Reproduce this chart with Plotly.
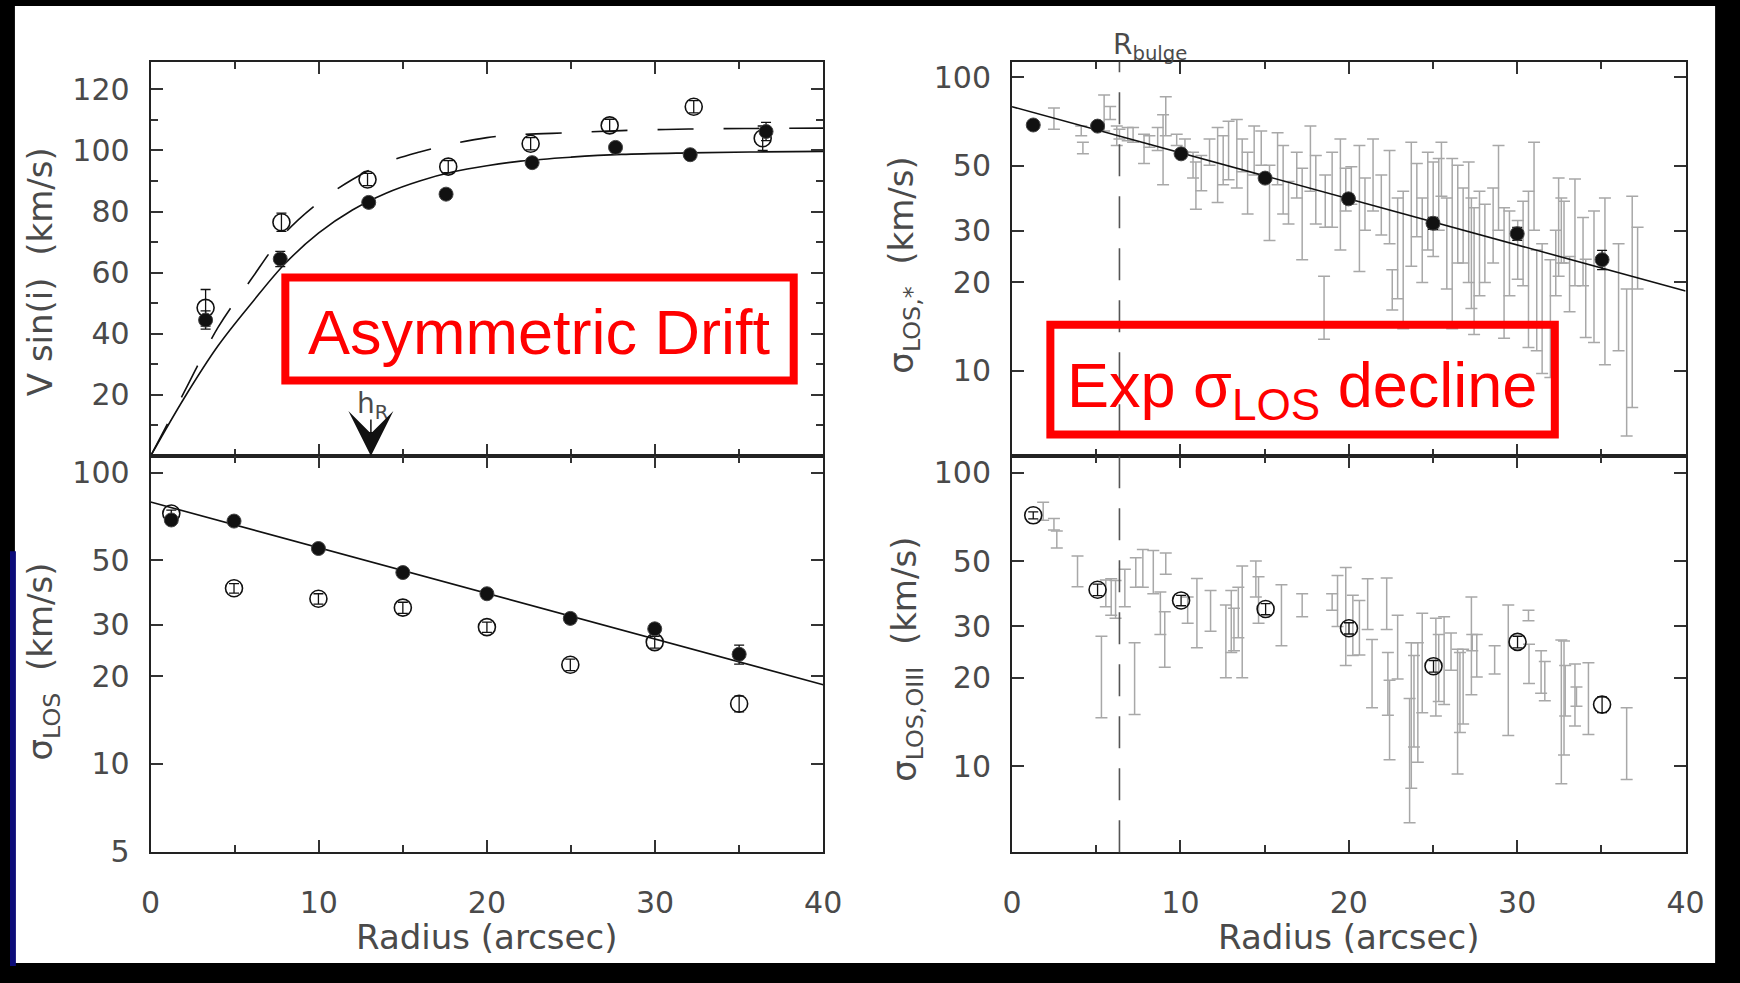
import numpy as np
import plotly.graph_objects as go

W, H = 1740, 983

# ---------------- data: top-left  V sin(i) ----------------
v_r_open = [3.27, 7.78, 12.9, 17.7, 22.6, 27.3, 32.3, 36.4]
v_open = [48.5, 76.5, 90.5, 94.7, 102.2, 108.2, 114.3, 104.0]
v_open_err = [6.0, 3.0, 2.0, 2.0, 2.0, 2.0, 2.0, 4.0]
v_r_fill = [3.27, 7.71, 12.97, 17.57, 22.69, 27.65, 32.09, 36.6]
v_fill = [44.5, 64.5, 83.0, 85.7, 96.0, 101.0, 98.6, 106.2]
v_fill_err = [3.0, 2.5, 1.5, 1.5, 1.5, 1.5, 1.5, 3.0]

curve_r = [0, 2, 4, 6, 8, 10, 12, 14, 16, 18, 20, 22, 25, 28, 32, 36, 40]
curve_solid = [0, 19, 36, 50, 63, 73, 80.5, 86, 90, 93, 95, 96.5, 97.8, 98.7, 99.2, 99.5, 99.7]
curve_dashed = [0, 21, 42, 58, 73, 83, 90.5, 96, 99.5, 102.2, 104.2, 105.2, 105.8, 106.5, 107.0, 107.2, 107.3]

# ---------------- data: bottom-left  sigma_LOS ----------------
los_r = [1.23, 4.96, 9.98, 15.0, 20.0, 24.96, 29.98, 35.0]
los_fill = [68.8, 68.2, 54.9, 45.4, 38.4, 31.6, 29.1, 23.8]
los_fill_err = [2.0, 1.5, 1.5, 1.5, 1.2, 1.2, 1.2, 1.8]
los_open = [72.4, 40.1, 36.9, 34.4, 29.5, 21.9, 26.2, 16.1]
los_open_err = [2.0, 1.5, 1.5, 1.5, 1.2, 1.0, 1.2, 1.0]

fit_r = [0, 40]
fit_sig = [79.3, 18.7]

# ---------------- data: top-right  sigma_LOS,* ----------------
star_r = [1.26, 5.08, 10.04, 15.03, 19.98, 25.0, 30.0, 35.04]
star_sig = [68.7, 68.1, 54.8, 45.3, 38.5, 31.8, 29.3, 23.9]
star_err = [2.0, 2.0, 1.8, 1.5, 1.5, 1.5, 1.5, 1.8]

star_bar_r = [2.49, 4.11, 4.21, 5.47, 5.83, 6.22, 6.38, 6.87, 7.19, 7.84, 8.16, 8.65, 8.97, 9.13,
              9.78, 10.27, 10.75, 10.92, 11.24, 11.73, 12.21, 12.54, 12.86, 13.35, 13.67, 13.99,
              14.38, 14.80, 15.29, 15.77, 16.10, 16.42, 16.91, 17.23, 17.72, 18.04, 18.53, 18.6,
              19.01, 19.50, 19.82, 20.15, 20.63, 20.96, 21.44, 21.93, 22.42, 22.58, 22.90, 23.23,
              23.71, 24.04, 24.36, 24.69, 25.01, 25.34, 25.5, 25.82, 26.14, 26.47, 26.79, 27.12,
              27.28, 27.44, 27.76, 28.08, 28.57, 28.89, 29.22, 29.54, 30.03, 30.35, 30.67, 31.00,
              31.16, 31.48, 31.97, 32.29, 32.46, 32.62, 32.78, 33.11, 33.43, 33.91, 34.07, 34.56,
              35.21, 36.02, 36.50, 36.83, 37.15]
star_bar_hi = [78.5, 68.1, 60.0, 86.9, 79.4, 68.1, 66.4, 67.3, 67.3, 63.9, 63.1, 67.3, 74.5, 85.8,
               63.9, 61.5, 55.5, 51.4, 54.1, 61.5, 67.3, 63.1, 70.8, 71.7, 61.5, 55.5,
               68.1, 65.6, 50.1, 64.7, 58.5, 44.1, 55.5, 48.9, 68.1, 54.1, 21.0, 46.4,
               55.5, 61.5, 48.9, 49.5, 58.5, 45.3, 61.5, 46.4, 56.3, 22.1, 38.8, 40.9,
               60.0, 50.8, 38.8, 55.5, 51.4, 52.8, 60.0, 38.8, 52.8, 50.1, 41.9, 51.4,
               38.8, 35.9, 40.9, 36.9, 41.9, 58.5, 35.9, 35.0, 32.5, 37.8, 40.9, 60.0,
               25.8, 27.1, 23.9, 30.1, 45.3, 38.8, 37.8, 24.5, 45.0, 33.3, 24.0, 35.0,
               38.8, 27.1, 19.0, 39.3, 30.8]
star_bar_lo = [66.4, 63.1, 54.8, 65.6, 71.7, 58.5, 61.5, 60.7, 60.0, 50.8, 57.7, 56.3, 43.0, 63.1,
               58.5, 55.5, 45.3, 35.5, 41.0, 50.1, 37.4, 43.0, 44.7, 41.9, 47.6, 34.2,
               46.4, 50.1, 27.8, 43.0, 34.2, 31.6, 38.8, 23.9, 40.9, 31.6, 12.8, 30.8,
               30.8, 25.8, 35.0, 36.9, 21.8, 30.1, 35.0, 29.0, 27.1, 16.1, 17.6, 13.9,
               22.7, 28.6, 20.0, 25.8, 24.5, 30.1, 39.3, 19.0, 13.9, 23.3, 23.3, 20.0,
               16.3, 13.3, 18.0, 20.0, 23.3, 30.1, 12.9, 18.0, 20.5, 19.5, 12.0, 30.1,
               11.7, 9.8, 9.5, 18.0, 21.0, 23.3, 23.3, 15.9, 19.5, 19.5, 13.0, 12.5,
               10.5, 11.7, 6.0, 7.5, 19.0]

# ---------------- data: bottom-right  sigma_LOS,OIII ----------------
gas_r = [1.26, 5.08, 10.04, 15.06, 20.01, 25.03, 30.02, 35.04]
gas_sig = [71.6, 39.9, 36.7, 34.3, 29.5, 21.9, 26.5, 16.2]
gas_err = [2.0, 1.8, 1.5, 1.5, 1.3, 1.0, 1.2, 1.0]

gas_bar_r = [1.85, 2.49, 2.66, 3.89, 5.31, 5.57, 5.89, 6.15, 6.70, 7.28, 7.35, 7.77, 8.39, 8.81,
             9.07, 9.13, 10.43, 10.98, 11.79, 12.70, 13.02, 13.18, 13.44, 13.67, 14.48, 14.64,
             16.0, 17.23, 19.01, 19.33, 19.82, 20.24, 20.63, 21.12, 21.38, 22.25, 22.32, 22.42,
             22.90, 23.61, 23.71, 23.87, 24.10, 24.36, 25.17, 25.34, 25.66, 26.07, 26.46, 26.60,
             26.79, 27.28, 27.33, 27.60, 28.66, 29.47, 30.67, 30.70, 31.42, 31.64, 32.62, 32.78,
             32.85, 33.43, 33.52, 34.23, 36.50]
gas_bar_hi = [79.4, 69.8, 63.3, 52.0, 27.7, 43.1, 43.5, 42.9, 46.9, 26.3, 51.3, 54.7, 54.3, 39.2,
              33.6, 53.3, 37.7, 43.6, 39.7, 35.4, 39.7, 34.5, 40.7, 48.1, 50.0, 44.2,
              41.5, 38.7, 38.7, 44.6, 47.5, 38.2, 36.7, 43.5, 27.0, 43.8, 24.4, 19.6,
              32.7, 17.0, 26.3, 23.8, 26.3, 33.2, 31.9, 28.1, 32.3, 28.4, 25.0, 24.4,
              25.0, 37.7, 28.1, 28.1, 25.7, 35.4, 34.0, 26.0, 24.7, 22.7, 26.9, 26.7,
              22.0, 22.3, 18.6, 22.5, 15.8]
gas_bar_lo = [68.9, 63.8, 55.4, 40.9, 14.6, 34.9, 32.7, 31.9, 34.9, 15.0, 40.7, 40.7, 38.7, 28.1,
              21.7, 45.1, 30.7, 25.3, 28.8, 20.0, 24.4, 24.7, 27.4, 20.0, 37.7, 30.7,
              25.7, 32.3, 34.0, 29.9, 22.0, 23.8, 23.9, 29.2, 15.8, 29.2, 14.9, 10.5,
              19.8, 6.4, 8.4, 11.6, 10.3, 15.2, 14.8, 16.6, 16.2, 21.2, 9.4, 13.0,
              13.9, 17.5, 24.7, 20.1, 20.6, 12.7, 31.3, 19.1, 17.7, 16.7, 8.7, 10.9,
              14.8, 13.7, 16.0, 12.8, 9.0]

r_bulge = 6.38
h_R = 13.1

# ---------------- helpers (positions as fractions of the 1740x983 picture) ----------------
def px(x):
    return x / W

def py(y):
    return 1 - y / H

BLACK = "#111111"
GRAY = "#a8a8a8"
TXT = "#4a4a4a"
FONT = "DejaVu Sans"
RFONT = "Liberation Sans"

def bars(r, lo, hi):
    lo = np.array(lo, float)
    hi = np.array(hi, float)
    c = np.sqrt(lo * hi)
    return c, hi - c, c - lo

fig = go.Figure()

# --- gray individual bars (drawn first) ---
c, ep, em = bars(star_bar_r, star_bar_lo, star_bar_hi)
fig.add_trace(go.Scatter(x=star_bar_r, y=c, mode="markers", xaxis="x2", yaxis="y2",
                         marker=dict(size=1, color="rgba(0,0,0,0)"),
                         error_y=dict(type="data", symmetric=False, array=ep, arrayminus=em,
                                      color=GRAY, thickness=1.5, width=6),
                         showlegend=False, hoverinfo="skip"))
c, ep, em = bars(gas_bar_r, gas_bar_lo, gas_bar_hi)
fig.add_trace(go.Scatter(x=gas_bar_r, y=c, mode="markers", xaxis="x4", yaxis="y4",
                         marker=dict(size=1, color="rgba(0,0,0,0)"),
                         error_y=dict(type="data", symmetric=False, array=ep, arrayminus=em,
                                      color=GRAY, thickness=1.5, width=6),
                         showlegend=False, hoverinfo="skip"))

# --- top-left curves ---
fig.add_trace(go.Scatter(x=curve_r, y=curve_solid, mode="lines", line=dict(color=BLACK, width=1.6, shape="spline"),
                         xaxis="x", yaxis="y", showlegend=False))
fig.add_trace(go.Scatter(x=curve_r, y=curve_dashed, mode="lines",
                         line=dict(color=BLACK, width=1.6, shape="spline", dash="36px,30px"),
                         xaxis="x", yaxis="y", showlegend=False))

# --- fit lines ---
for ax in ("2", "3"):
    fig.add_trace(go.Scatter(x=fit_r, y=fit_sig, mode="lines", line=dict(color=BLACK, width=1.6),
                             xaxis="x" + ax, yaxis="y" + ax, showlegend=False))

def open_pts(x, y, e, ax):
    return go.Scatter(x=x, y=y, mode="markers", xaxis="x" + ax, yaxis="y" + ax,
                      marker=dict(symbol="circle-open", size=17, color=BLACK, line=dict(width=1.6, color=BLACK)),
                      error_y=dict(type="data", array=e, color=BLACK, thickness=1.3, width=5),
                      showlegend=False)

def fill_pts(x, y, e, ax):
    return go.Scatter(x=x, y=y, mode="markers", xaxis="x" + ax, yaxis="y" + ax,
                      marker=dict(symbol="circle", size=14, color=BLACK, line=dict(width=1, color="#444")),
                      error_y=dict(type="data", array=e, color=BLACK, thickness=1.3, width=5),
                      showlegend=False)

fig.add_trace(open_pts(v_r_open, v_open, v_open_err, ""))
fig.add_trace(fill_pts(v_r_fill, v_fill, v_fill_err, ""))
fig.add_trace(open_pts(los_r, los_open, los_open_err, "3"))
fig.add_trace(fill_pts(los_r, los_fill, los_fill_err, "3"))
fig.add_trace(fill_pts(star_r, star_sig, star_err, "2"))
fig.add_trace(open_pts(gas_r, gas_sig, gas_err, "4"))

# ---------------- axes ----------------
xl = [px(143), px(827)]
xr = [px(1019), px(1704)]
yt = [py(463), py(61)]
yb = [py(867), py(463)]

tickfont = dict(family=FONT, size=30, color=TXT)
common = dict(showline=True, linecolor="#222222", linewidth=2, mirror="ticks", ticks="inside",
              tickcolor="#333333", tickwidth=1.6, ticklen=12, showgrid=False, zeroline=False,
              tickfont=tickfont)

def xaxis(domain, anchor, labels):
    return dict(domain=domain, anchor=anchor, range=[0, 40], tickmode="array",
                tickvals=[0, 10, 20, 30, 40], showticklabels=labels, ticklabelstandoff=23,
                minor=dict(tickvals=[5, 15, 25, 35], ticks="inside", ticklen=7,
                           tickcolor="#333333", tickwidth=1.6),
                **common)

logvals = [5, 10, 20, 30, 50, 100]
fig.update_layout(
    xaxis=xaxis(xl, "y", False),
    xaxis2=xaxis(xr, "y2", False),
    xaxis3=xaxis(xl, "y3", True),
    xaxis4=xaxis(xr, "y4", True),
    yaxis=dict(domain=yt, anchor="x", range=[0, 129], tickmode="array",
               tickvals=[0, 20, 40, 60, 80, 100, 120], ticktext=["", "20", "40", "60", "80", "100", "120"],
               minor=dict(tickvals=[10, 30, 50, 70, 90, 110], ticks="inside", ticklen=7,
                          tickcolor="#333333", tickwidth=1.6),
               ticklabelstandoff=13, **common),
    yaxis2=dict(domain=yt, anchor="x2", type="log", range=[0.710, 2.052], tickmode="array",
                tickvals=logvals, ticktext=[str(v) for v in logvals], ticklabelstandoff=13, **common),
    yaxis3=dict(domain=yb, anchor="x3", type="log", range=[0.697, 2.057], tickmode="array",
                tickvals=logvals, ticktext=[str(v) for v in logvals], ticklabelstandoff=13, **common),
    yaxis4=dict(domain=yb, anchor="x4", type="log", range=[0.706, 2.057], tickmode="array",
                tickvals=logvals, ticktext=[str(v) for v in logvals], ticklabelstandoff=13, **common),
)

# ---------------- shapes ----------------
shapes = [
    dict(type="rect", xref="paper", yref="paper", x0=px(5), x1=px(1734), y0=py(980), y1=py(4),
         fillcolor="white", line=dict(width=0), layer="below"),
    dict(type="rect", xref="paper", yref="paper", x0=0, x1=px(6), y0=0, y1=py(560),
         fillcolor="#0b0b78", line=dict(width=0), layer="below"),
    dict(type="line", xref="x2", yref="paper", x0=r_bulge, x1=r_bulge, y0=py(867), y1=py(61),
         line=dict(color="#555555", width=1.6, dash="32px,20px")),
    dict(type="rect", xref="paper", yref="paper", x0=px(280), x1=px(797), y0=py(386), y1=py(281),
         line=dict(color="#ff0000", width=8), fillcolor="rgba(0,0,0,0)"),
    dict(type="rect", xref="paper", yref="paper", x0=px(1058), x1=px(1571), y0=py(441), y1=py(329),
         line=dict(color="#ff0000", width=8), fillcolor="rgba(0,0,0,0)"),
]

lab = dict(family=FONT, size=34, color=TXT)
small = dict(family=FONT, size=28, color=TXT)
red = dict(family=RFONT, size=63, color="#ff0000")
C = dict(xanchor="center", yanchor="middle", showarrow=False)
annotations = [
    dict(text="V sin(i)\u00a0 (km/s)", x=px(30), y=py(275), xref="paper", yref="paper",
         textangle=-90, font=lab, **C),
    dict(text="\u03c3<sub>LOS</sub>\u00a0 (km/s)", x=px(33), y=py(672), xref="paper", yref="paper",
         textangle=-90, font=lab, **C),
    dict(text="\u03c3<sub>LOS,*</sub>\u00a0 (km/s)", x=px(909), y=py(268), xref="paper", yref="paper",
         textangle=-90, font=lab, **C),
    dict(text="\u03c3<sub>LOS,OIII</sub>\u00a0 (km/s)", x=px(911), y=py(670), xref="paper", yref="paper",
         textangle=-90, font=lab, **C),
    dict(text="Radius (arcsec)", x=px(485), y=py(953), xref="paper", yref="paper", font=lab, **C),
    dict(text="Radius (arcsec)", x=px(1361), y=py(953), xref="paper", yref="paper", font=lab, **C),
    dict(text="R<sub>bulge</sub>", x=px(1120), y=py(45), xref="paper", yref="paper", xanchor="left",
         yanchor="middle", showarrow=False, font=small),
    dict(text="h<sub>R</sub>", x=13.2, y=py(411), xref="x", yref="paper", font=small, **C),
    dict(text="", x=h_R, y=0, xref="x", yref="y", ax=0, ay=-38, showarrow=True, arrowhead=3,
         arrowsize=5, arrowwidth=1.5, arrowcolor=BLACK),
    dict(text="Asymmetric Drift", x=px(538), y=py(337), xref="paper", yref="paper", font=red, **C),
    dict(text="Exp \u03c3<sub>LOS</sub> decline", x=px(1314), y=py(395), xref="paper", yref="paper",
         font=red, **C),
]

fig.update_layout(width=W, height=H, margin=dict(l=0, r=0, t=0, b=0),
                  paper_bgcolor="black", plot_bgcolor="rgba(0,0,0,0)",
                  shapes=shapes, annotations=annotations, showlegend=False)

fig.write_html("out.html")
